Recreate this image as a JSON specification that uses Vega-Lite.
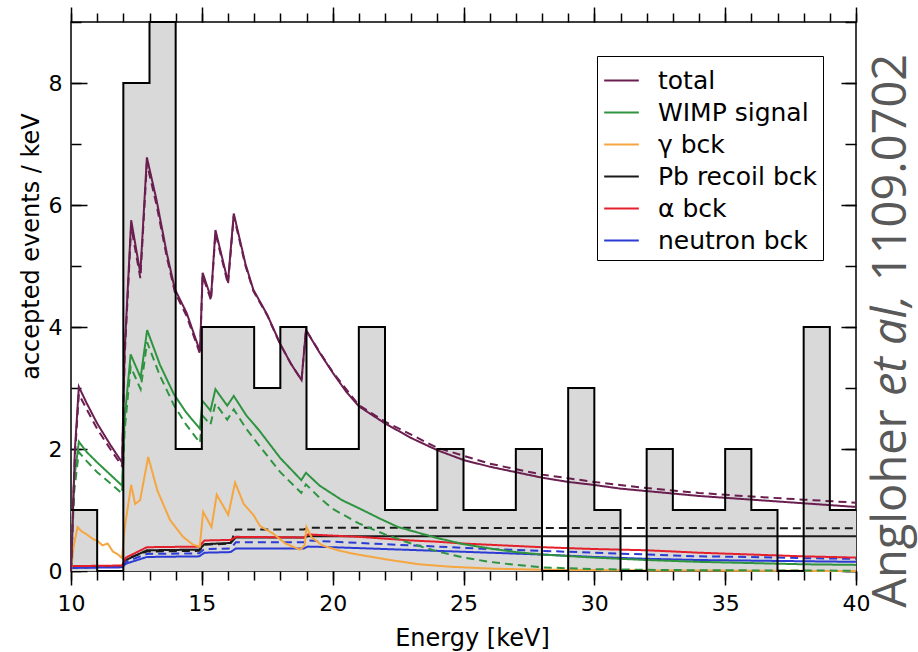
{
  "$schema": "https://vega.github.io/schema/vega-lite/v6.json",
  "width": 785,
  "height": 549,
  "autosize": "none",
  "padding": {"left": 71, "top": 22, "right": 62, "bottom": 81},
  "background": "white",
  "config": {
    "view": {"stroke": "black", "strokeWidth": 1.5},
    "axis": {
      "grid": false, "domain": false, "labelFlush": false,
      "tickColor": "black", "tickWidth": 1.5,
      "labelColor": "black", "labelFont": "DejaVu Sans", "labelFontSize": 22,
      "titleColor": "black", "titleFont": "DejaVu Sans", "titleFontSize": 24, "titleFontWeight": "normal"
    }
  },
  "datasets": {
    "hist": [
      {"E": 10, "n": 1}, {"E": 11, "n": 0}, {"E": 12, "n": 8}, {"E": 13, "n": 9}, {"E": 14, "n": 2},
      {"E": 15, "n": 4}, {"E": 16, "n": 4}, {"E": 17, "n": 3}, {"E": 18, "n": 4}, {"E": 19, "n": 2},
      {"E": 20, "n": 2}, {"E": 21, "n": 4}, {"E": 22, "n": 1}, {"E": 23, "n": 1}, {"E": 24, "n": 2},
      {"E": 25, "n": 1}, {"E": 26, "n": 1}, {"E": 27, "n": 2}, {"E": 28, "n": 0}, {"E": 29, "n": 3},
      {"E": 30, "n": 1}, {"E": 31, "n": 0}, {"E": 32, "n": 2}, {"E": 33, "n": 1}, {"E": 34, "n": 1},
      {"E": 35, "n": 2}, {"E": 36, "n": 1}, {"E": 37, "n": 0}, {"E": 38, "n": 4}, {"E": 39, "n": 1},
      {"E": 40, "n": 1}
    ],
    "curves": [
      {"s": "Pb recoil bck", "d": "solid", "E": 10, "v": 0.06}, {"s": "Pb recoil bck", "d": "solid", "E": 11.95, "v": 0.07},
      {"s": "Pb recoil bck", "d": "solid", "E": 12.1, "v": 0.18}, {"s": "Pb recoil bck", "d": "solid", "E": 12.9, "v": 0.34},
      {"s": "Pb recoil bck", "d": "solid", "E": 14.9, "v": 0.35}, {"s": "Pb recoil bck", "d": "solid", "E": 15.1, "v": 0.44},
      {"s": "Pb recoil bck", "d": "solid", "E": 16.1, "v": 0.46}, {"s": "Pb recoil bck", "d": "solid", "E": 16.3, "v": 0.55},
      {"s": "Pb recoil bck", "d": "solid", "E": 18.9, "v": 0.55}, {"s": "Pb recoil bck", "d": "solid", "E": 19.05, "v": 0.57},
      {"s": "Pb recoil bck", "d": "solid", "E": 40, "v": 0.57},
      {"s": "Pb recoil bck", "d": "dashed", "E": 10, "v": 0.06}, {"s": "Pb recoil bck", "d": "dashed", "E": 11.95, "v": 0.07},
      {"s": "Pb recoil bck", "d": "dashed", "E": 12.1, "v": 0.2}, {"s": "Pb recoil bck", "d": "dashed", "E": 12.9, "v": 0.32},
      {"s": "Pb recoil bck", "d": "dashed", "E": 14.9, "v": 0.33}, {"s": "Pb recoil bck", "d": "dashed", "E": 15.1, "v": 0.43},
      {"s": "Pb recoil bck", "d": "dashed", "E": 16.1, "v": 0.45}, {"s": "Pb recoil bck", "d": "dashed", "E": 16.3, "v": 0.68},
      {"s": "Pb recoil bck", "d": "dashed", "E": 18.9, "v": 0.68}, {"s": "Pb recoil bck", "d": "dashed", "E": 19.05, "v": 0.71},
      {"s": "Pb recoil bck", "d": "dashed", "E": 40, "v": 0.7},
      {"s": "neutron bck", "d": "solid", "E": 10, "v": 0.05}, {"s": "neutron bck", "d": "solid", "E": 11.95, "v": 0.06},
      {"s": "neutron bck", "d": "solid", "E": 12.1, "v": 0.12}, {"s": "neutron bck", "d": "solid", "E": 12.9, "v": 0.23},
      {"s": "neutron bck", "d": "solid", "E": 14.9, "v": 0.24}, {"s": "neutron bck", "d": "solid", "E": 15.1, "v": 0.3},
      {"s": "neutron bck", "d": "solid", "E": 16.1, "v": 0.31}, {"s": "neutron bck", "d": "solid", "E": 16.3, "v": 0.37},
      {"s": "neutron bck", "d": "solid", "E": 18.9, "v": 0.37}, {"s": "neutron bck", "d": "solid", "E": 19.05, "v": 0.4},
      {"s": "neutron bck", "d": "solid", "E": 20, "v": 0.39}, {"s": "neutron bck", "d": "solid", "E": 22, "v": 0.36},
      {"s": "neutron bck", "d": "solid", "E": 24, "v": 0.33}, {"s": "neutron bck", "d": "solid", "E": 26, "v": 0.3},
      {"s": "neutron bck", "d": "solid", "E": 28, "v": 0.27}, {"s": "neutron bck", "d": "solid", "E": 30, "v": 0.23},
      {"s": "neutron bck", "d": "solid", "E": 32, "v": 0.2}, {"s": "neutron bck", "d": "solid", "E": 34, "v": 0.18},
      {"s": "neutron bck", "d": "solid", "E": 36, "v": 0.17}, {"s": "neutron bck", "d": "solid", "E": 38, "v": 0.16},
      {"s": "neutron bck", "d": "solid", "E": 40, "v": 0.15},
      {"s": "neutron bck", "d": "dashed", "E": 10, "v": 0.06}, {"s": "neutron bck", "d": "dashed", "E": 11.95, "v": 0.07},
      {"s": "neutron bck", "d": "dashed", "E": 12.1, "v": 0.15}, {"s": "neutron bck", "d": "dashed", "E": 12.9, "v": 0.28},
      {"s": "neutron bck", "d": "dashed", "E": 14.9, "v": 0.29}, {"s": "neutron bck", "d": "dashed", "E": 15.1, "v": 0.36},
      {"s": "neutron bck", "d": "dashed", "E": 16.1, "v": 0.37}, {"s": "neutron bck", "d": "dashed", "E": 16.3, "v": 0.47},
      {"s": "neutron bck", "d": "dashed", "E": 18.9, "v": 0.47}, {"s": "neutron bck", "d": "dashed", "E": 19.05, "v": 0.5},
      {"s": "neutron bck", "d": "dashed", "E": 20, "v": 0.48}, {"s": "neutron bck", "d": "dashed", "E": 22, "v": 0.44},
      {"s": "neutron bck", "d": "dashed", "E": 24, "v": 0.4}, {"s": "neutron bck", "d": "dashed", "E": 26, "v": 0.36},
      {"s": "neutron bck", "d": "dashed", "E": 28, "v": 0.33}, {"s": "neutron bck", "d": "dashed", "E": 30, "v": 0.3},
      {"s": "neutron bck", "d": "dashed", "E": 32, "v": 0.27}, {"s": "neutron bck", "d": "dashed", "E": 34, "v": 0.24},
      {"s": "neutron bck", "d": "dashed", "E": 36, "v": 0.23}, {"s": "neutron bck", "d": "dashed", "E": 38, "v": 0.21},
      {"s": "neutron bck", "d": "dashed", "E": 40, "v": 0.2},
      {"s": "α bck", "d": "solid", "E": 10, "v": 0.08}, {"s": "α bck", "d": "solid", "E": 11.95, "v": 0.09},
      {"s": "α bck", "d": "solid", "E": 12.1, "v": 0.22}, {"s": "α bck", "d": "solid", "E": 12.9, "v": 0.39},
      {"s": "α bck", "d": "solid", "E": 14.9, "v": 0.4}, {"s": "α bck", "d": "solid", "E": 15.1, "v": 0.5},
      {"s": "α bck", "d": "solid", "E": 16.1, "v": 0.51}, {"s": "α bck", "d": "solid", "E": 16.3, "v": 0.56},
      {"s": "α bck", "d": "solid", "E": 18.9, "v": 0.55}, {"s": "α bck", "d": "solid", "E": 19.05, "v": 0.6},
      {"s": "α bck", "d": "solid", "E": 20, "v": 0.58}, {"s": "α bck", "d": "solid", "E": 21, "v": 0.56},
      {"s": "α bck", "d": "solid", "E": 22, "v": 0.53}, {"s": "α bck", "d": "solid", "E": 23, "v": 0.5},
      {"s": "α bck", "d": "solid", "E": 24, "v": 0.48}, {"s": "α bck", "d": "solid", "E": 25, "v": 0.45},
      {"s": "α bck", "d": "solid", "E": 26, "v": 0.43}, {"s": "α bck", "d": "solid", "E": 28, "v": 0.39},
      {"s": "α bck", "d": "solid", "E": 30, "v": 0.36}, {"s": "α bck", "d": "solid", "E": 32, "v": 0.34},
      {"s": "α bck", "d": "solid", "E": 34, "v": 0.3}, {"s": "α bck", "d": "solid", "E": 36, "v": 0.27},
      {"s": "α bck", "d": "solid", "E": 38, "v": 0.24}, {"s": "α bck", "d": "solid", "E": 40, "v": 0.22},
      {"s": "γ bck", "d": "solid", "E": 10, "v": 0}, {"s": "γ bck", "d": "solid", "E": 10.1, "v": 0.4},
      {"s": "γ bck", "d": "solid", "E": 10.25, "v": 0.72}, {"s": "γ bck", "d": "solid", "E": 10.4, "v": 0.65},
      {"s": "γ bck", "d": "solid", "E": 10.6, "v": 0.6}, {"s": "γ bck", "d": "solid", "E": 10.85, "v": 0.52},
      {"s": "γ bck", "d": "solid", "E": 11.0, "v": 0.5}, {"s": "γ bck", "d": "solid", "E": 11.2, "v": 0.42},
      {"s": "γ bck", "d": "solid", "E": 11.4, "v": 0.45}, {"s": "γ bck", "d": "solid", "E": 11.6, "v": 0.32},
      {"s": "γ bck", "d": "solid", "E": 11.8, "v": 0.27}, {"s": "γ bck", "d": "solid", "E": 11.95, "v": 0.21},
      {"s": "γ bck", "d": "solid", "E": 12.05, "v": 0.7}, {"s": "γ bck", "d": "solid", "E": 12.3, "v": 1.41},
      {"s": "γ bck", "d": "solid", "E": 12.45, "v": 1.1}, {"s": "γ bck", "d": "solid", "E": 12.64, "v": 1.16},
      {"s": "γ bck", "d": "solid", "E": 12.95, "v": 1.87}, {"s": "γ bck", "d": "solid", "E": 13.3, "v": 1.32},
      {"s": "γ bck", "d": "solid", "E": 13.78, "v": 0.84}, {"s": "γ bck", "d": "solid", "E": 14.28, "v": 0.56},
      {"s": "γ bck", "d": "solid", "E": 14.67, "v": 0.43}, {"s": "γ bck", "d": "solid", "E": 14.92, "v": 0.4},
      {"s": "γ bck", "d": "solid", "E": 15.05, "v": 0.97}, {"s": "γ bck", "d": "solid", "E": 15.37, "v": 0.72},
      {"s": "γ bck", "d": "solid", "E": 15.57, "v": 1.25}, {"s": "γ bck", "d": "solid", "E": 16.01, "v": 0.92},
      {"s": "γ bck", "d": "solid", "E": 16.27, "v": 1.45}, {"s": "γ bck", "d": "solid", "E": 16.6, "v": 1.1},
      {"s": "γ bck", "d": "solid", "E": 16.97, "v": 0.92}, {"s": "γ bck", "d": "solid", "E": 17.22, "v": 0.74},
      {"s": "γ bck", "d": "solid", "E": 17.7, "v": 0.62}, {"s": "γ bck", "d": "solid", "E": 18.2, "v": 0.45},
      {"s": "γ bck", "d": "solid", "E": 18.75, "v": 0.35}, {"s": "γ bck", "d": "solid", "E": 18.93, "v": 0.42},
      {"s": "γ bck", "d": "solid", "E": 19.0, "v": 0.72}, {"s": "γ bck", "d": "solid", "E": 19.2, "v": 0.55},
      {"s": "γ bck", "d": "solid", "E": 19.6, "v": 0.42}, {"s": "γ bck", "d": "solid", "E": 20.2, "v": 0.34},
      {"s": "γ bck", "d": "solid", "E": 20.7, "v": 0.29}, {"s": "γ bck", "d": "solid", "E": 21.5, "v": 0.23},
      {"s": "γ bck", "d": "solid", "E": 22.2, "v": 0.18}, {"s": "γ bck", "d": "solid", "E": 23.3, "v": 0.11},
      {"s": "γ bck", "d": "solid", "E": 24.5, "v": 0.07}, {"s": "γ bck", "d": "solid", "E": 26, "v": 0.04},
      {"s": "γ bck", "d": "solid", "E": 28, "v": 0.02}, {"s": "γ bck", "d": "solid", "E": 32, "v": 0.01},
      {"s": "γ bck", "d": "solid", "E": 40, "v": 0.0},
      {"s": "WIMP signal", "d": "solid", "E": 10, "v": 0}, {"s": "WIMP signal", "d": "solid", "E": 10.12, "v": 1.5},
      {"s": "WIMP signal", "d": "solid", "E": 10.3, "v": 2.12}, {"s": "WIMP signal", "d": "solid", "E": 10.6, "v": 1.95},
      {"s": "WIMP signal", "d": "solid", "E": 11, "v": 1.78}, {"s": "WIMP signal", "d": "solid", "E": 11.5, "v": 1.58},
      {"s": "WIMP signal", "d": "solid", "E": 11.95, "v": 1.4}, {"s": "WIMP signal", "d": "solid", "E": 12.05, "v": 2.5},
      {"s": "WIMP signal", "d": "solid", "E": 12.28, "v": 3.55}, {"s": "WIMP signal", "d": "solid", "E": 12.66, "v": 3.17},
      {"s": "WIMP signal", "d": "solid", "E": 12.91, "v": 3.95}, {"s": "WIMP signal", "d": "solid", "E": 13.4, "v": 3.38},
      {"s": "WIMP signal", "d": "solid", "E": 13.93, "v": 2.9}, {"s": "WIMP signal", "d": "solid", "E": 14.4, "v": 2.6},
      {"s": "WIMP signal", "d": "solid", "E": 14.93, "v": 2.33}, {"s": "WIMP signal", "d": "solid", "E": 15.02, "v": 2.79},
      {"s": "WIMP signal", "d": "solid", "E": 15.33, "v": 2.63}, {"s": "WIMP signal", "d": "solid", "E": 15.52, "v": 2.98},
      {"s": "WIMP signal", "d": "solid", "E": 15.97, "v": 2.71}, {"s": "WIMP signal", "d": "solid", "E": 16.22, "v": 2.87},
      {"s": "WIMP signal", "d": "solid", "E": 16.7, "v": 2.55}, {"s": "WIMP signal", "d": "solid", "E": 17.2, "v": 2.3},
      {"s": "WIMP signal", "d": "solid", "E": 18, "v": 1.85}, {"s": "WIMP signal", "d": "solid", "E": 18.8, "v": 1.49},
      {"s": "WIMP signal", "d": "solid", "E": 18.98, "v": 1.61}, {"s": "WIMP signal", "d": "solid", "E": 19.5, "v": 1.4},
      {"s": "WIMP signal", "d": "solid", "E": 20.36, "v": 1.16}, {"s": "WIMP signal", "d": "solid", "E": 21, "v": 1.03},
      {"s": "WIMP signal", "d": "solid", "E": 21.8, "v": 0.86}, {"s": "WIMP signal", "d": "solid", "E": 22.5, "v": 0.72},
      {"s": "WIMP signal", "d": "solid", "E": 24, "v": 0.54}, {"s": "WIMP signal", "d": "solid", "E": 25, "v": 0.44},
      {"s": "WIMP signal", "d": "solid", "E": 26, "v": 0.37}, {"s": "WIMP signal", "d": "solid", "E": 27, "v": 0.31},
      {"s": "WIMP signal", "d": "solid", "E": 28, "v": 0.27}, {"s": "WIMP signal", "d": "solid", "E": 30, "v": 0.22},
      {"s": "WIMP signal", "d": "solid", "E": 32, "v": 0.18}, {"s": "WIMP signal", "d": "solid", "E": 34, "v": 0.15},
      {"s": "WIMP signal", "d": "solid", "E": 36, "v": 0.13}, {"s": "WIMP signal", "d": "solid", "E": 38, "v": 0.11},
      {"s": "WIMP signal", "d": "solid", "E": 40, "v": 0.1},
      {"s": "WIMP signal", "d": "dashed", "E": 10, "v": 0}, {"s": "WIMP signal", "d": "dashed", "E": 10.12, "v": 1.3},
      {"s": "WIMP signal", "d": "dashed", "E": 10.3, "v": 1.95}, {"s": "WIMP signal", "d": "dashed", "E": 10.6, "v": 1.8},
      {"s": "WIMP signal", "d": "dashed", "E": 11, "v": 1.62}, {"s": "WIMP signal", "d": "dashed", "E": 11.5, "v": 1.44},
      {"s": "WIMP signal", "d": "dashed", "E": 11.95, "v": 1.27}, {"s": "WIMP signal", "d": "dashed", "E": 12.05, "v": 2.3},
      {"s": "WIMP signal", "d": "dashed", "E": 12.28, "v": 3.35}, {"s": "WIMP signal", "d": "dashed", "E": 12.66, "v": 2.98},
      {"s": "WIMP signal", "d": "dashed", "E": 12.91, "v": 3.75}, {"s": "WIMP signal", "d": "dashed", "E": 13.4, "v": 3.2},
      {"s": "WIMP signal", "d": "dashed", "E": 13.93, "v": 2.72}, {"s": "WIMP signal", "d": "dashed", "E": 14.4, "v": 2.4},
      {"s": "WIMP signal", "d": "dashed", "E": 14.93, "v": 2.1}, {"s": "WIMP signal", "d": "dashed", "E": 15.02, "v": 2.55},
      {"s": "WIMP signal", "d": "dashed", "E": 15.33, "v": 2.4}, {"s": "WIMP signal", "d": "dashed", "E": 15.52, "v": 2.75},
      {"s": "WIMP signal", "d": "dashed", "E": 15.97, "v": 2.48}, {"s": "WIMP signal", "d": "dashed", "E": 16.22, "v": 2.65},
      {"s": "WIMP signal", "d": "dashed", "E": 16.7, "v": 2.33}, {"s": "WIMP signal", "d": "dashed", "E": 17.2, "v": 2.05},
      {"s": "WIMP signal", "d": "dashed", "E": 18, "v": 1.62}, {"s": "WIMP signal", "d": "dashed", "E": 18.8, "v": 1.28},
      {"s": "WIMP signal", "d": "dashed", "E": 18.98, "v": 1.42}, {"s": "WIMP signal", "d": "dashed", "E": 19.5, "v": 1.2},
      {"s": "WIMP signal", "d": "dashed", "E": 20, "v": 1.02}, {"s": "WIMP signal", "d": "dashed", "E": 21, "v": 0.78},
      {"s": "WIMP signal", "d": "dashed", "E": 22, "v": 0.6}, {"s": "WIMP signal", "d": "dashed", "E": 23, "v": 0.45},
      {"s": "WIMP signal", "d": "dashed", "E": 24, "v": 0.32}, {"s": "WIMP signal", "d": "dashed", "E": 25, "v": 0.22},
      {"s": "WIMP signal", "d": "dashed", "E": 26, "v": 0.15}, {"s": "WIMP signal", "d": "dashed", "E": 27, "v": 0.1},
      {"s": "WIMP signal", "d": "dashed", "E": 28, "v": 0.06}, {"s": "WIMP signal", "d": "dashed", "E": 30, "v": 0.03},
      {"s": "WIMP signal", "d": "dashed", "E": 33, "v": 0.015}, {"s": "WIMP signal", "d": "dashed", "E": 36, "v": 0.01},
      {"s": "WIMP signal", "d": "dashed", "E": 40, "v": 0.005},
      {"s": "total", "d": "solid", "E": 10, "v": 0}, {"s": "total", "d": "solid", "E": 10.15, "v": 2.0},
      {"s": "total", "d": "solid", "E": 10.3, "v": 3.02}, {"s": "total", "d": "solid", "E": 10.6, "v": 2.75},
      {"s": "total", "d": "solid", "E": 11, "v": 2.42}, {"s": "total", "d": "solid", "E": 11.5, "v": 2.07},
      {"s": "total", "d": "solid", "E": 11.95, "v": 1.78}, {"s": "total", "d": "solid", "E": 12.05, "v": 3.6},
      {"s": "total", "d": "solid", "E": 12.3, "v": 5.75},
      {"s": "total", "d": "solid", "E": 12.65, "v": 4.88}, {"s": "total", "d": "solid", "E": 12.9, "v": 6.78},
      {"s": "total", "d": "solid", "E": 13.27, "v": 6.08}, {"s": "total", "d": "solid", "E": 13.66, "v": 5.21},
      {"s": "total", "d": "solid", "E": 13.97, "v": 4.62}, {"s": "total", "d": "solid", "E": 14.42, "v": 4.23},
      {"s": "total", "d": "solid", "E": 14.93, "v": 3.6}, {"s": "total", "d": "solid", "E": 15.03, "v": 4.89},
      {"s": "total", "d": "solid", "E": 15.35, "v": 4.48}, {"s": "total", "d": "solid", "E": 15.52, "v": 5.59},
      {"s": "total", "d": "solid", "E": 16.0, "v": 4.74}, {"s": "total", "d": "solid", "E": 16.22, "v": 5.86},
      {"s": "total", "d": "solid", "E": 16.67, "v": 5.03}, {"s": "total", "d": "solid", "E": 16.97, "v": 4.61},
      {"s": "total", "d": "solid", "E": 17.5, "v": 4.2}, {"s": "total", "d": "solid", "E": 17.99, "v": 3.73},
      {"s": "total", "d": "solid", "E": 18.4, "v": 3.4}, {"s": "total", "d": "solid", "E": 18.81, "v": 3.13},
      {"s": "total", "d": "solid", "E": 18.98, "v": 3.95}, {"s": "total", "d": "solid", "E": 19.5, "v": 3.58},
      {"s": "total", "d": "solid", "E": 20.02, "v": 3.24}, {"s": "total", "d": "solid", "E": 20.5, "v": 2.95},
      {"s": "total", "d": "solid", "E": 21, "v": 2.7}, {"s": "total", "d": "solid", "E": 22, "v": 2.42},
      {"s": "total", "d": "solid", "E": 23, "v": 2.18}, {"s": "total", "d": "solid", "E": 24, "v": 1.98},
      {"s": "total", "d": "solid", "E": 25, "v": 1.82}, {"s": "total", "d": "solid", "E": 26, "v": 1.71},
      {"s": "total", "d": "solid", "E": 27, "v": 1.62}, {"s": "total", "d": "solid", "E": 28, "v": 1.53},
      {"s": "total", "d": "solid", "E": 29, "v": 1.46}, {"s": "total", "d": "solid", "E": 30, "v": 1.41},
      {"s": "total", "d": "solid", "E": 31, "v": 1.35}, {"s": "total", "d": "solid", "E": 32, "v": 1.31},
      {"s": "total", "d": "solid", "E": 33, "v": 1.27}, {"s": "total", "d": "solid", "E": 34, "v": 1.23},
      {"s": "total", "d": "solid", "E": 35, "v": 1.2}, {"s": "total", "d": "solid", "E": 36, "v": 1.17},
      {"s": "total", "d": "solid", "E": 37, "v": 1.14}, {"s": "total", "d": "solid", "E": 38, "v": 1.11},
      {"s": "total", "d": "solid", "E": 39, "v": 1.08}, {"s": "total", "d": "solid", "E": 40, "v": 1.05},
      {"s": "total", "d": "dashed", "E": 10, "v": 0}, {"s": "total", "d": "dashed", "E": 10.15, "v": 1.9},
      {"s": "total", "d": "dashed", "E": 10.3, "v": 2.9}, {"s": "total", "d": "dashed", "E": 10.6, "v": 2.65},
      {"s": "total", "d": "dashed", "E": 11, "v": 2.33}, {"s": "total", "d": "dashed", "E": 11.5, "v": 2.0},
      {"s": "total", "d": "dashed", "E": 11.95, "v": 1.72}, {"s": "total", "d": "dashed", "E": 12.05, "v": 3.5},
      {"s": "total", "d": "dashed", "E": 12.3, "v": 5.65},
      {"s": "total", "d": "dashed", "E": 12.65, "v": 4.8}, {"s": "total", "d": "dashed", "E": 12.9, "v": 6.68},
      {"s": "total", "d": "dashed", "E": 13.27, "v": 6.0}, {"s": "total", "d": "dashed", "E": 13.66, "v": 5.15},
      {"s": "total", "d": "dashed", "E": 13.97, "v": 4.57}, {"s": "total", "d": "dashed", "E": 14.42, "v": 4.18},
      {"s": "total", "d": "dashed", "E": 14.93, "v": 3.56}, {"s": "total", "d": "dashed", "E": 15.03, "v": 4.84},
      {"s": "total", "d": "dashed", "E": 15.35, "v": 4.44}, {"s": "total", "d": "dashed", "E": 15.52, "v": 5.54},
      {"s": "total", "d": "dashed", "E": 16.0, "v": 4.7}, {"s": "total", "d": "dashed", "E": 16.22, "v": 5.82},
      {"s": "total", "d": "dashed", "E": 16.67, "v": 5.0}, {"s": "total", "d": "dashed", "E": 16.97, "v": 4.59},
      {"s": "total", "d": "dashed", "E": 17.5, "v": 4.19}, {"s": "total", "d": "dashed", "E": 17.99, "v": 3.72},
      {"s": "total", "d": "dashed", "E": 18.4, "v": 3.4}, {"s": "total", "d": "dashed", "E": 18.81, "v": 3.13},
      {"s": "total", "d": "dashed", "E": 18.98, "v": 3.95}, {"s": "total", "d": "dashed", "E": 19.5, "v": 3.59},
      {"s": "total", "d": "dashed", "E": 20.02, "v": 3.25}, {"s": "total", "d": "dashed", "E": 21, "v": 2.72},
      {"s": "total", "d": "dashed", "E": 22, "v": 2.45}, {"s": "total", "d": "dashed", "E": 24, "v": 2.02},
      {"s": "total", "d": "dashed", "E": 26, "v": 1.76}, {"s": "total", "d": "dashed", "E": 28, "v": 1.58},
      {"s": "total", "d": "dashed", "E": 30, "v": 1.46}, {"s": "total", "d": "dashed", "E": 32, "v": 1.36},
      {"s": "total", "d": "dashed", "E": 34, "v": 1.28}, {"s": "total", "d": "dashed", "E": 36, "v": 1.22},
      {"s": "total", "d": "dashed", "E": 38, "v": 1.17}, {"s": "total", "d": "dashed", "E": 40, "v": 1.12}
    ]
  },
  "resolve": {"axis": {"x": "independent", "y": "independent"}},
  "layer": [
    {
      "data": {"name": "hist"},
      "mark": {"type": "area", "interpolate": "step-after", "color": "#d9d9d9"},
      "encoding": {
        "x": {"field": "E", "type": "quantitative", "scale": {"domain": [10, 40], "nice": false},
          "axis": {"orient": "bottom", "values": [10, 15, 20, 25, 30, 35, 40], "tickSize": 14, "labelPadding": 8, "labelFlush": false,
            "title": "Energy [keV]", "titleX": 401, "titleY": 74, "titleBaseline": "alphabetic", "titleAlign": "center"}},
        "y": {"field": "n", "type": "quantitative", "scale": {"domain": [0, 9], "nice": false},
          "axis": {"orient": "left", "values": [0, 2, 4, 6, 8], "tickSize": -16, "labelPadding": 25,
            "title": "accepted events / keV", "titleX": -33, "titleY": 224, "titleAngle": 270,
            "titleBaseline": "alphabetic", "titleAlign": "center"}}
      }
    },
    {
      "data": {"name": "curves"},
      "mark": {"type": "line", "strokeWidth": 2},
      "encoding": {
        "x": {"field": "E", "type": "quantitative", "scale": {"domain": [10, 40], "nice": false},
          "axis": {"orient": "bottom", "values": [10,11,12,13,14,15,16,17,18,19,20,21,22,23,24,25,26,27,28,29,30,31,32,33,34,35,36,37,38,39,40],
            "tickSize": 9, "labels": false, "title": null}},
        "y": {"field": "v", "type": "quantitative", "scale": {"domain": [0, 9], "nice": false},
          "axis": {"orient": "left", "values": [0,1,2,3,4,5,6,7,8,9], "tickSize": -10, "labels": false, "title": null}},
        "color": {"field": "s", "type": "nominal",
          "scale": {"domain": ["total", "WIMP signal", "γ bck", "Pb recoil bck", "α bck", "neutron bck"],
            "range": ["#6b1e50", "#2f9440", "#f5a640", "#1a1a1a", "#e3202b", "#2b3bd4"]},
          "legend": {"orient": "none", "legendX": 526, "legendY": 34, "title": null,
            "symbolType": "stroke", "symbolSize": 1200, "symbolStrokeWidth": 2,
            "labelFont": "DejaVu Sans", "labelFontSize": 25, "labelColor": "black", "labelOffset": 18,
            "strokeColor": "black", "fillColor": "white", "padding": 6, "rowPadding": 0}},
        "strokeDash": {"field": "d", "type": "nominal",
          "scale": {"domain": ["solid", "dashed"], "range": [[1, 0], [8, 5]]}, "legend": null}
      }
    },
    {
      "data": {"name": "hist"},
      "mark": {"type": "line", "interpolate": "step-after", "color": "black", "strokeWidth": 2},
      "encoding": {
        "x": {"field": "E", "type": "quantitative", "scale": {"domain": [10, 40], "nice": false},
          "axis": {"orient": "top", "values": [10, 15, 20, 25, 30, 35, 40], "tickSize": 15, "labels": false, "title": null}},
        "y": {"field": "n", "type": "quantitative", "scale": {"domain": [0, 9], "nice": false},
          "axis": {"orient": "right", "values": [0, 2, 4, 6, 8], "tickSize": -15, "labels": false, "title": null}}
      }
    },
    {
      "data": {"name": "hist"},
      "mark": {"type": "point", "opacity": 0},
      "encoding": {
        "x": {"field": "E", "type": "quantitative", "scale": {"domain": [10, 40], "nice": false},
          "axis": {"orient": "top", "values": [10,11,12,13,14,15,16,17,18,19,20,21,22,23,24,25,26,27,28,29,30,31,32,33,34,35,36,37,38,39,40],
            "tickSize": 9, "labels": false, "title": null}},
        "y": {"field": "n", "type": "quantitative", "scale": {"domain": [0, 9], "nice": false},
          "axis": {"orient": "right", "values": [0,1,2,3,4,5,6,7,8,9], "tickSize": -11, "labels": false,
            "title": "Angloher", "titleFont": "Open Sans", "titleFontSize": 47, "titleColor": "#595959",
            "titleAngle": 270, "titleX": 49, "titleY": 486, "titleAlign": "center", "titleBaseline": "alphabetic"}}
      }
    },
    {
      "data": {"name": "hist"},
      "mark": {"type": "point", "opacity": 0},
      "encoding": {
        "x": {"field": "E", "type": "quantitative", "scale": {"domain": [10, 40], "nice": false}, "axis": null},
        "y": {"field": "n", "type": "quantitative", "scale": {"domain": [0, 9], "nice": false},
          "axis": {"orient": "right", "ticks": false, "labels": false, "domain": false,
            "title": "et al,", "titleFont": "Open Sans", "titleFontSize": 47, "titleFontStyle": "italic", "titleColor": "#595959",
            "titleAngle": 270, "titleX": 49, "titleY": 323, "titleAlign": "center", "titleBaseline": "alphabetic"}}
      }
    },
    {
      "data": {"name": "hist"},
      "mark": {"type": "point", "opacity": 0},
      "encoding": {
        "x": {"field": "E", "type": "quantitative", "scale": {"domain": [10, 40], "nice": false}, "axis": null},
        "y": {"field": "n", "type": "quantitative", "scale": {"domain": [0, 9], "nice": false},
          "axis": {"orient": "right", "ticks": false, "labels": false, "domain": false,
            "title": "1109.0702", "titleFont": "Open Sans", "titleFontSize": 47, "titleColor": "#595959",
            "titleAngle": 270, "titleX": 49, "titleY": 145, "titleAlign": "center", "titleBaseline": "alphabetic"}}
      }
    }
  ]
}
